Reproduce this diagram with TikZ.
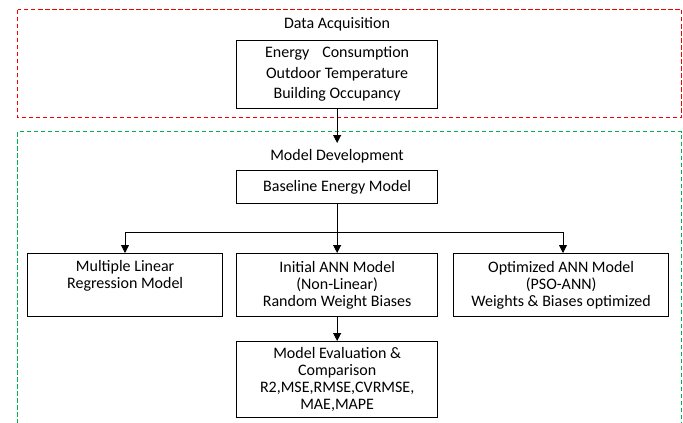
\documentclass[tikz,border=0pt]{standalone}
\usepackage{fontspec}
\setmainfont{Carlito}
\usetikzlibrary{arrows.meta}
\definecolor{fgred}{RGB}{245,0,0}
\definecolor{fggreen}{RGB}{0,176,80}
\tikzset{
  box/.style={draw=black, line width=1.3pt, minimum height=#1, align=center, inner sep=0pt, anchor=north west, font=\fontsize{16}{17}\selectfont},
  lbl/.style={font=\fontsize{16}{17}\selectfont, inner sep=0pt},
  conn/.style={draw=black, line width=0.8pt, -{Triangle[length=8pt,width=8pt]}},
  dashframe/.style={draw=#1, line width=1.6pt, dash pattern=on 4.5pt off 2.5pt},
}
\begin{document}
\begin{tikzpicture}[x=1pt,y=-1pt]
\useasboundingbox (0,0) rectangle (683,423);
\fill[white] (0,0) rectangle (683,423);
\draw[dashframe=fgred] (17.5,9.5) rectangle (681.5,117.5);
\draw[dashframe=fggreen] (17.5,423.5) -- (17.5,131.5) -- (681.5,131.5) -- (681.5,423.5);
\node[lbl] (t1) at (337,24) {Data Acquisition};
\node[lbl] (t2) at (337,156) {Model Development};
\node[box=68pt, minimum width=201pt, font=\fontsize{16}{20.5}\selectfont] (acq) at (236,39.5) {Energy\hspace{0.8em}Consumption\\Outdoor Temperature\\Building Occupancy};
\node[box=33pt, minimum width=201pt] (base) at (236,170) {Baseline Energy Model};
\node[box=63pt, minimum width=195pt] (mlr) at (27,253) {Multiple Linear\\Regression Model\\\strut};
\node[box=63pt, minimum width=201pt] (ann) at (236,253) {Initial ANN Model\\(Non-Linear)\\Random Weight Biases};
\node[box=63pt, minimum width=215pt] (pso) at (453,253) {Optimized ANN Model\\(PSO-ANN)\\Weights \& Biases optimized};
\node[box=76pt, minimum width=201pt] (eval) at (236,341) {Model Evaluation \&\\Comparison\\R2,MSE,RMSE,CVRMSE,\\MAE,MAPE};
\coordinate (split) at (base.south |- 0,232);
\draw[conn] (acq.south) -- (base.north |- 0,143);
\draw[conn] (base.south) -- (ann.north);
\draw[conn] (split -| 125,0) -- (mlr.north -| 125,0);
\draw[draw=black, line width=0.8pt] (split -| 125,0) -- (split -| 563,0);
\draw[conn] (split -| 563,0) -- (pso.north -| 563,0);
\draw[conn] (ann.south) -- (eval.north);
\end{tikzpicture}
\end{document}
